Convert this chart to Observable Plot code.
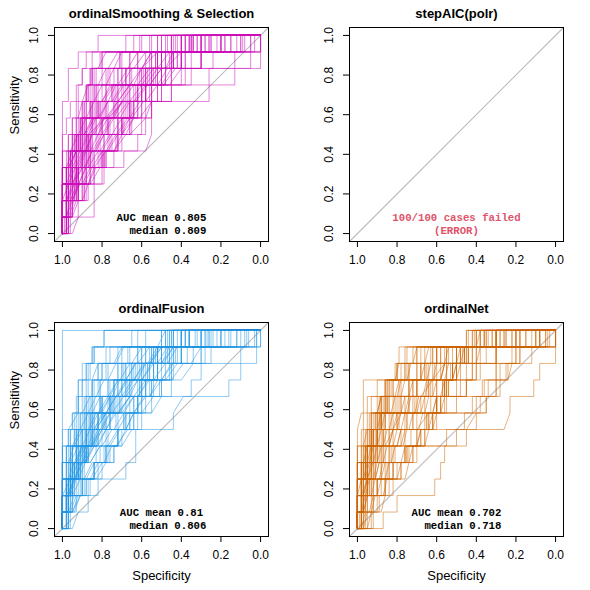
<!DOCTYPE html>
<html><head><meta charset="utf-8">
<script src="https://cdn.jsdelivr.net/npm/d3@7"></script>
<script src="https://cdn.jsdelivr.net/npm/@observablehq/plot@0.6"></script>
<style>
body{margin:0;background:#fff;}
#grid{position:relative;width:590px;height:590px;overflow:hidden;}
svg text, svg tspan{white-space:pre;}
</style></head><body><div id="grid"></div>
<script>
// ---------- data ----------
const titles = ["ordinalSmoothing & Selection", "stepAIC(polr)", "ordinalFusion", "ordinalNet"];
const colors = ["#CD0BBC", "#DF536B", "#2297E6", "#CD6600"];
const aucMeans = ["0.805", null, "0.81", "0.702"];
const aucMedians = ["0.809", null, "0.806", "0.718"];
const failedCases = [0, 100, 0, 0];
const totalCases = 100;
const xTicks = [1, 0.8, 0.6, 0.4, 0.2, 0];
const yTicks = [0, 0.2, 0.4, 0.6, 0.8, 1];
const nPositives = 12;

// Each curve: 12 tokens = specificity (in %) where sensitivity rises from level k/12 to (k+1)/12.
// "a/b" = tie (diagonal) from spec a at level k to spec b at level k+1; an empty side skips that point.
const curvesSmoothing = [
  "100 100 100 100 100 100 100 100 97 97 92 82",
  "100 100 100 100 98 97 95 93 92 90 88 20",
  "100 100 98 97 95 95 93 92/90 88 86 82/78 45",
  "100 100 100 98 97 95 93 90 88 85 52 10",
  "98 98 97 95 93 92 90 88 86 83 80 0",
  "100 100 100 100 100 97 95 92 90/87 85 80 35",
  "100 100 97 95 93 90 88 86 84 82/78 62 5",
  "100 100 100 98 96 93 91 89 87 84 81 55",
  "100 98 97 95 93 91 88 85 83 80 77/72 28",
  "100 100 100 100 97 95 92 90 88 86 40 15",
  "100 100 98 96 95 93 91 89 87 85 30 0",
  "100 100 100 100 100 100 98 96 93 90 85 68",
  "100 100 100 98 96 93 90 60 55 50 40 25",
  "100 100 98 95 93 90 66/58 55 50 45 38 20",
  "100 100 100 100 95 92 88 85 45 40 30 18",
  "98 98 95 93 90 62 60 58 55 50/45 40 32",
  "100 100 100 97 95 93 90 88 85 26 13 5",
  "100 100 97 95 92 88 70/64 60 55 50 44 30",
  "100 100 100 100 97 94 91 65 60 56 50 40",
  "100 98 96 93 90 87 84 70 66/60 55 48 38",
  "100 100 100 95 92 89 86 83 58 54 48/44 36",
  "100 100 98 96 94 92 89 86 83 60 50 40",
  "100 100 97 94 91 88 85 82 80 77 0 0",
  "100 100 100 98 95 92 89 85 72 68 60/55 50",
  "100 97 95 92 89 86 83 80 78 35 24 10",
  "100 100 100 100 96 93 58 55 52 48 44 38",
  "100 100 95 90 84/78 72 72 66 66 57 50 35",
  "98 98 93 93 87 87 87/78 74 74 65 60/52 52",
  "100 98 92 84 78 73 68/64 64 60 55 48 36",
  "100 100 100 96 96 90 90 84 84 76 71 43",
  "96 96 89 89 81 81 72 72 62 56/50 50 34",
  "100 100 98/ /90 90 84/ /74 74 64/ /52 45 30",
  "100 100 95/ / /85 85 78 78/ /66 66 52 40",
  "100 100 100 97/ /90 90 82/ /72 72 58 50 25",
  "100 100 96/93 93 88 88 80 75/70 70 58 50 9",
  "98 98 93 93 88 88 82/79 79 72/ /60 53 45",
  "100 100 95/92 92 85 85 77 77/69 69 59 53 47",
  "100 96 88 80 74 70 66 66 62 58 50 32",
  "100 100 100 95 92/ /85 85 78 78 70 66 61",
  "97 97 92 92 87 87 81 81 73 68 62 56",
  "100 100 94 86 80 76 72 68 66 62 55 45",
  "100 100 97 88 80 72 72/66 66 60 60 52 40",
  "95/92 84 84 79 69 58/55 55 55 45 38 30 20",
  "97 92 87 84 79 75 70 66 60 50 40 30",
  "100 100 98 95 90 86 80 72 26 13 5 0",
  "100 95 90 86 79 72 66 58/55 50 45 30 15",
  "97 95 92 88 84 80/75 70 62 58 52 44 35",
  "100 97 92 90 86 82 76 69 62 55 48/40 26",
  "100 100 96 92 86 79 69 64 58 50 42 34",
  "98 95 90/ /84 79 74/ /66 62 58 52 44 36",
  "100 100 100/97 95 93/89 87 85/80 78 75/70 68 60/55 30",
  "100 98/95 93 90/86 84 81/76 74 71/66 63 56/50 45 22",
  "100 100 100 100 97/93 91 89/84 82 79/74 72 64/58 48",
  "100 100 97/94 92 89/85 83 80/75 73 70/64 61 52/46 12",
  "100 100 100 98/95 93 91/87 85 82/77 75 70/65 55 40",
  "98 96/93 90 87/83 80 77/72 70 66/61 58 52/47 42 34",
  "100 100 100 100 100 96/92 90 88/84 82 78/74 71 60",
  "100 100 98 95/91 89 86/82 80 76/70 67 62/56 52 38",
  "100 97/94 92 89/85 82 78/73 70 65/59 56 49/43 38 8",
  "100 100 100 97 95/91 89 87/83 81 77/73 70 67/62 50",
  "100 100 98/95 93 91/88 86 84/79 77 74/69 66 58 26",
  "100 98 96/92 90 87/82 79 75/70 67 63/57 53 46 18",
  "100 100 100 100 98/95 94 92/88 86 84/80 78 74/70 64",
  "97 95/92 89 86/81 78 74/68 65 61/55 52 46/40 35 28",
  "100 100 97 95/92 90 88/85 83 81/77 75 72/67 45 3",
  "100 100 100 95/90 88 85/80 77 73/67 64 60/54 50 42",
  "100 98/96 94 92/88 86 83/79 77 74/70 68 64/60 56 44",
  "100 100 100 98 96/93 91 88/84 82 80/76 74 70 52",
  "99 97 95/91 88 85/80 77 73/67 64 58/52 48 40 20",
  "100 100 100 100 97/93 91 89/85 83 80/75 72 66 30"
];
const curvesFailed = [];
const curvesFusion = [
  "100 100 100 100 100 100 100 100 100 100 100 100",
  "100 100 100 100 98 97 95 93 92 90 85 79",
  "100 100 98 96 93/90 88 85 80 75/71 66 55 40",
  "95/92 87 82 68 63 63 44 44/39 35 30 25 18",
  "100 100 96 92 88 84 80 75 16 10 2 0",
  "100 98 96 93 90 86/82 78 74 68 60 52/47 38",
  "100 100 100 97 95 92 88 85/81 76 70 62 50",
  "98 97 95 92 89 85 82 77 72/68 63 55 30",
  "100 100 97 94 91 88 84/80 76 72 68 60 45",
  "100 100 100 100 98 96 94 92 90 88 84 40",
  "100 97 93 90 87 82 78 73 67 62 56/50 26",
  "100 100 100 98 96 94 92 90 88 86 30 8",
  "97 95 88 82 76 72 68 64 60 56 52 45",
  "100 100 98 96 95 93 91 89 87 85/82 60 15",
  "100 98 95 92 88 84 80 76 70 64/58 48 36",
  "100 100 98 95 93 90 86 81 77 72 66 3",
  "100 100 100 100 100 97 95 92 90 88 85 0",
  "98 96 90 84 78 72 68 64 60 57 52 44",
  "100 98 97 95 93 91 89 87 85 80 72 25",
  "100 100 97 95 91 87 82 78/73 70 65 58 46",
  "100 98 96 92 89 86 84 80 74 68 62 52/48",
  "100 100 100 98 95 92 64 60 55 50 44 36",
  "97 93 86 80 74 70 66 62 58 54 50/46 40",
  "100 100 98 96 93 90 88 86 50 46 40 30",
  "100 98 90 84 78 72 68/64 62 58 52 46 40",
  "100 100 100 100 96 92 88 72/66 62 57 50 40",
  "100 97 95 92 90 87 85 81 77 72 67 30",
  "100 100 97 94 92 89 87 85 82 45 30 12",
  "100 100 100 97 95 93 90 88 85 82 10 2",
  "100 100 100 100 100 100 97/92 92 92 87 84 79",
  "100 100 97/ /90 88 84/ /76 72 66/ /58 52 40",
  "100 98 95 92/ /85 82/ /74 70 65 60/ /50 42",
  "100 100 98/94 90 86/81 77 72/67 62 56/50 44 35/30 22",
  "98 95/91 87 83/78 74 70/65 60 55/50 45 40/34 28 20",
  "100 100 100 96/92 89 85/80 76 72/66 60 54 47/42 36",
  "100 100 97 94 90/ /81 76 70/ /58 52 46 38",
  "100 100 100 100 97 94/90 86 82/77 72 68/63 58 12",
  "100 98 96 93 89/84 80 76 71/66 61 56 49/44 33",
  "100 100 98 95 92 88 84/79 74 69/64 58 52 6",
  "97 95 90 84 79/75 72 68/64 60 56/52 48 42 36",
  "100 98 96 94 91 88 85 55 50 45 40 28",
  "100 97 94 91 87 83/78 73 68 62/57 52 47 26",
  "100 100 98 96 93/89 85 82 78/73 68 64/59 54 47",
  "100 100 100 100 98 96 93 90/86 84 80 76 50",
  "98 96 94 91 88 85 81/76 71 66 61 56/51 44",
  "100 100 98 95 93 90 62 58 54 50/44 40 30",
  "100 98 95 91 87 83 79 75 70/65 60 54 48",
  "100 100 100 98 96 94 91 88 85 82 78 20",
  "100 97 90 84 78 72/68 66 62 58 54 50 44",
  "100 97 95 93 90 88 86 84 81 78 74/70 65",
  "100 100 100/96 94 92/88 86 83/78 76 72/67 64 57/52 28",
  "100 97/94 92 89/85 83 80/75 72 69/64 61 54/48 43 20",
  "100 100 100 100 96/92 90 87/83 81 77/72 70 62/56 46",
  "100 100 96/93 91 88/84 82 78/73 71 68/62 59 50/44 10",
  "100 100 100 97/94 92 90/86 84 81/76 74 68/63 53 38",
  "97 95/92 89 86/82 79 76/71 69 64/59 56 50/45 40 32",
  "100 100 100 100 100 95/91 89 87/83 81 77/73 70 58",
  "100 100 97 94/90 88 85/81 79 75/69 66 60/54 50 36",
  "100 96/93 91 88/84 81 77/72 69 64/58 55 48/42 37 7",
  "100 100 100 96 94/90 88 86/82 80 76/72 69 65/60 48",
  "100 100 97/94 92 90/87 85 83/78 76 73/68 65 56 24",
  "100 97 95/91 89 86/81 78 74/69 66 62/56 52 45 16",
  "100 100 100 100 97/94 93 91/87 85 83/79 77 73/69 62",
  "96 94/91 88 85/80 77 73/67 64 60/54 51 45/39 34 27",
  "100 100 96 94/91 89 87/84 82 80/76 74 71/66 44 2"
];
const curvesNet = [
  "87 80 61 58 56 45 40 35 30 25 18 10",
  "100 97 92 85 75 55 26/23 23 11 8 0 0",
  "100 100 100 100 100 100 100/98 95 82 81 79 45",
  "100 100 98 96/94 92 88 84/82 78 70 62 50 30",
  "98 96 90 84 76 70 64/62 58 55 50 42 30",
  "100 100 100 97 95/93 90 86 80 74 66 56 42",
  "100 98 95 92 88 84 80/78 74 70 64 58 40/38",
  "98/96 92 86 78 72 66 62 58 54 48 42 36",
  "100 100 100 100 98 97 95 93 90 80 75 40",
  "100 100 100 98 95 92 88 84 78/76 70 60 8",
  "95 92 86 80 74/72 68 64 60 56 52 46 35",
  "100 98 97 95 92/90 87 83 79 74 68 62 0",
  "100 100 94 88 82 76 70 66 62 58/56 50 28",
  "97 97 97/95 92 88 84 80 76 72 68 63 22",
  "100 100 98 96 95 93 90 88 85 78 72 20",
  "100 97 90 84 76 70/68 64 60 56 50 44 18",
  "100 100 100 98 96 94 91 88 86 70 60 10",
  "92 89 84 78 72 66 62/60 58 55 52 47 26",
  "100 98 97 95 93 90 88 86 84 75 50 0",
  "100 100 100 100 96 93 90 87 84 65 55 30",
  "100 100 98 95 93 90 88 60 56 52 46 38",
  "98 95 88 82 76 70 66 62/60 57 53 48 5",
  "100 100 100 98 95 92 70/64 60 56 50 44 30",
  "100 97 90 82 75 68 62 56 50 45 40/38 32",
  "100 100 98 96 93 90 86 82 74 68 60 0",
  "98 97 95 93 91 89 87 85 82 76 68 44",
  "100 100 97 95 92 90 88 86 83 55 40 25",
  "100 100 100 97 95 92 89 86 45 40 30 15",
  "100 100 98/ /92 90 86/ /78 74 68/ /56 48 30",
  "100 100 100 100 100 98 97 97 97 80 62 40",
  "97/95 93 90/88 86 83/81 78 74/72 68 62/60 55 48/46 28",
  "100 98 96/94 91 87/85 82 78/76 72 66/64 58 50/48 26",
  "100 100 97 95/93 90 87/85 82 78/76 72 68/66 60 3",
  "95/93 90 87/85 82 78/76 73 69/67 63 58/56 52 46 22",
  "100 97 95 93 90 87 84 81 78 74 70 42",
  "98 96 93/91 88 84 80/78 75 71 67/65 61 55 30",
  "100 98 95 91/89 86 82/80 76 71/69 64 58/56 50 8",
  "100 100 100 100 97 95 93 90/88 85 80 66 36",
  "93 88/86 82 76/74 70 66/64 62 58/56 54 50/48 45 38",
  "100 97 95 92/90 87 84/82 79 75/73 70 65/63 58 20",
  "100 100 100 100 97/95 93 90/88 85 81/79 76 72/70 41",
  "98 93/91 86 80/78 74 70/68 65 62/60 57 52/50 46 32",
  "100 100 100/98 96 94/92 90 88/86 84 80/78 74 66/64 36",
  "100 98/96 94 91/89 87 84/82 80 76/74 70 62/60 54 20",
  "100 100 97/95 93 90/88 86 82/80 78 74/72 66 56/54 8",
  "100 97/95 93 89/87 84 80/78 75 70/68 64 58/56 52 40",
  "96 94/92 90 86/84 81 77/75 72 68/66 63 56/54 48 34",
  "100 100 100 100 100 97/95 93 90/88 86 81/79 76 45",
  "99 97/95 92 88/86 83 78/76 72 66/64 60 52/50 44 18",
  "100 100 100 97/95 93 90/88 86 83/81 79 75/73 70 38",
  "100 100 98 97 95 93 92 40 37 30 22 10",
  "100 100 100 98 96 94 60 55 45 38 30 15",
  "98 97 95 93 91 90 88 35 30 24/22 18 5",
  "100 100 100 100 97 95 93 90 28 24 12 0",
  "100 98 96 94 92 50 46 42 36 30 20 8",
  "100 100 98 95 93 90 88 85 55 50 35 25",
  "100 100 100 97 95 92 45/40 38 34 28 20 12",
  "97 95 93 91 89 87 65 60 48 42 30 20",
  "100 100 100 98 96 93 91 89 60 52 45 35",
  "100 98 97 95 93 91 89 70 65 40 30 18",
  "100 100 98 96 94 92 90 88 86 60 40 4",
  "100 100 100 100 98 96 94 50 45 42 38 30"
];
const allCurves = [curvesSmoothing, curvesFailed, curvesFusion, curvesNet];

// ---------- helpers ----------
function parseCurve(str, id) {
  const pts = [{id, spec: 1, sens: 0}];
  str.trim().split(/\s+/).forEach((tok, k) => {
    const parts = tok.split("/");
    const a = parts[0];
    const b = parts.length > 1 ? parts[1] : parts[0];
    if (a !== "") pts.push({id, spec: +a / 100, sens: k / nPositives});
    if (b !== "") pts.push({id, spec: +b / 100, sens: (k + 1) / nPositives});
  });
  pts.push({id, spec: 0, sens: 1});
  return pts;
}

const fmt = d3.format(".1f");
const xDomain = [1.04, -0.04];
const yDomain = [-0.04, 1.04];
const refLine = [
  {spec: xDomain[0], sens: 1 - xDomain[0]},
  {spec: xDomain[1], sens: 1 - xDomain[1]}
];
const textPos = {spec: 0.5, sens: 0.05};
const mono = "'Liberation Mono', 'Courier New', monospace";
const sans = "'Liberation Sans', Arial, Helvetica, sans-serif";

function makePanel(i) {
  const rows = allCurves[i].flatMap((s, id) => parseCurve(s, id));
  const showY = i % 2 === 0;
  const showX = i >= 2;
  const marks = [
    Plot.line(refLine, {x: "spec", y: "sens", stroke: "#BDBDBD", strokeWidth: 1.2}),
    Plot.line(rows, {x: "spec", y: "sens", z: "id", stroke: colors[i], strokeOpacity: 0.5, strokeWidth: 1}),
    Plot.frame({stroke: "black", strokeWidth: 1}),
    Plot.axisX({ticks: xTicks, tickSize: 6, tickPadding: 8, tickFormat: fmt, fontSize: 12, label: null}),
    Plot.axisY({ticks: yTicks, tickSize: 6, tickFormat: () => "", label: null}),
    Plot.text(yTicks, {x: () => xDomain[0], y: d => d, text: d => fmt(d), rotate: -90, dx: -20, fontSize: 12, lineAnchor: "middle"}),
    Plot.text([titles[i]], {text: d => d, frameAnchor: "top", lineAnchor: "middle", dy: -14, fontSize: 13, fontWeight: "bold"})
  ];
  if (showY) marks.push(Plot.text(["Sensitivity"], {text: d => d, frameAnchor: "left", rotate: -90, dx: -40, fontSize: 13, lineAnchor: "middle"}));
  if (showX) marks.push(Plot.text(["Specificity"], {text: d => d, frameAnchor: "bottom", lineAnchor: "middle", dy: 39, fontSize: 13}));
  if (aucMeans[i]) {
    marks.push(Plot.text([`AUC mean ${aucMeans[i]}\n  median ${aucMedians[i]}`], {
      text: d => d, x: () => textPos.spec, y: () => textPos.sens, fontFamily: mono, fontWeight: "bold",
      fontSize: 10.7, lineHeight: 1.19, lineAnchor: "middle", fill: "black"
    }));
  }
  if (failedCases[i] > 0) {
    marks.push(Plot.text([`${failedCases[i]}/${totalCases} cases failed\n(ERROR)`], {
      text: d => d, x: () => textPos.spec, y: () => textPos.sens, fontFamily: mono, fontWeight: "bold",
      fontSize: 10.7, lineHeight: 1.19, lineAnchor: "middle", fill: colors[i]
    }));
  }
  const svg = Plot.plot({
    width: 295, height: 295,
    marginLeft: 54, marginRight: 27, marginTop: 27, marginBottom: 54,
    x: {domain: xDomain},
    y: {domain: yDomain},
    style: {fontFamily: sans, fontSize: "12px", background: "transparent", overflow: "visible", color: "black"},
    marks
  });
  svg.style.position = "absolute";
  svg.style.left = ((i % 2) * 295) + "px";
  svg.style.top = (Math.floor(i / 2) * 295) + "px";
  return svg;
}

const grid = document.getElementById("grid");
for (let i = 0; i < 4; i++) grid.appendChild(makePanel(i));
</script>
</body></html>
